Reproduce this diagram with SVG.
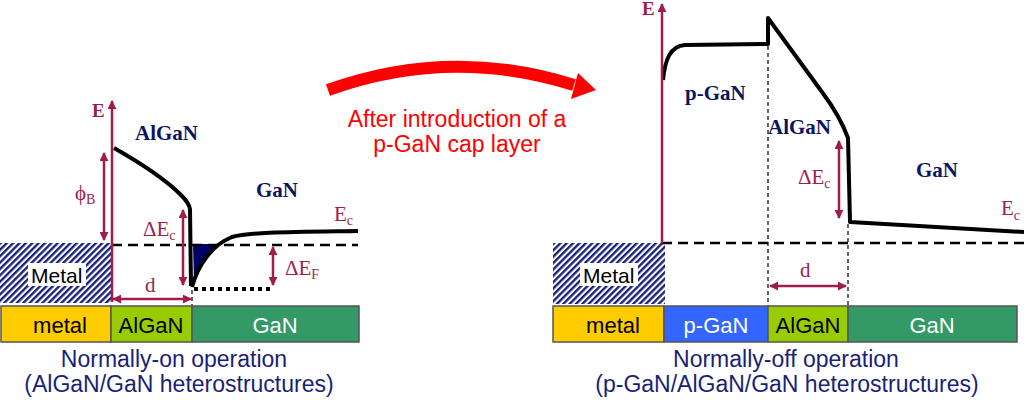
<svg xmlns="http://www.w3.org/2000/svg" width="1024" height="400" viewBox="0 0 1024 400">
<defs>
<pattern id="hatch" width="4.5" height="4.5" patternUnits="userSpaceOnUse" patternTransform="rotate(45)">
<rect width="4.5" height="4.5" fill="#ffffff"/>
<rect width="2.4" height="4.5" fill="#1a237a"/>
</pattern>
<marker id="ah" viewBox="0 0 10 10" refX="9" refY="5" markerWidth="9" markerHeight="9" markerUnits="userSpaceOnUse" orient="auto-start-reverse">
<path d="M0,0 L10,5 L0,10 Z" fill="#a01c4c"/>
</marker>
<style>
.ax{stroke:#a01c4c;stroke-width:2.5;fill:none}
.band{stroke:#000;stroke-width:4;fill:none;stroke-linejoin:round}
.ef{stroke:#000;stroke-width:2.5;stroke-dasharray:10 6;fill:none}
.bd{stroke:#000;stroke-width:1.2;stroke-dasharray:4 3;fill:none}
.lbl{font-family:"Liberation Serif",serif;font-weight:bold;fill:#0b1463;font-size:21px}
.sym{font-family:"Liberation Serif",serif;fill:#a01c4c;font-size:21px}
.ebold{font-family:"Liberation Serif",serif;font-weight:bold;fill:#a01c4c;font-size:19px}
.lay{font-family:"Liberation Sans",Arial,sans-serif;font-size:22px;text-anchor:middle}
.cap{font-family:"Liberation Sans",Arial,sans-serif;font-size:23px;fill:#1a1f78;text-anchor:middle}
.red{font-family:"Liberation Sans",Arial,sans-serif;font-size:23px;fill:#ff0000;text-anchor:middle}
.mtl{font-family:"Liberation Sans",Arial,sans-serif;font-size:21px;fill:#000}
.box{stroke:#555;stroke-width:1.5}
</style>
</defs>

<!-- LEFT DIAGRAM -->
<g id="left-metal-hatch">
<rect x="0" y="243" width="111" height="60" fill="url(#hatch)"/>
<rect x="28" y="263" width="58" height="23" fill="#ffffff"/>
<text class="mtl" x="31" y="283">Metal</text>
</g>
<g id="left-band">
<path d="M193,244 L222,244 C212,251 200,264 194,285 Z" fill="#000066"/>
<path class="band" d="M114,148 Q160,174 181,195 Q189,203 190,209 L191,286"/>
<path class="band" d="M192,287 C198,265 212,245 232,237 C250,232 290,232 358,231"/>
</g>
<g id="left-levels">
<line class="ef" x1="112" y1="245" x2="358" y2="245"/>
<line x1="194" y1="289" x2="273" y2="289" stroke="#000" stroke-width="4" stroke-dasharray="4 4"/>
<line class="bd" x1="192" y1="290" x2="192" y2="306"/>
</g>
<g id="left-labels">
<text class="ebold" x="92" y="117">E</text>
<text class="lbl" x="135" y="140">AlGaN</text>
<text class="lbl" x="256" y="197">GaN</text>
<text class="sym" x="75" y="200" font-size="22">ϕ<tspan font-size="14" dy="4">B</tspan></text>
<text class="sym" x="143" y="236">ΔE<tspan font-size="14" dy="4">c</tspan></text>
<text class="sym" x="285" y="275">ΔE<tspan font-size="14" dy="4">F</tspan></text>
<text class="sym" x="145" y="292" font-size="22">d</text>
<text class="sym" x="334" y="221">E<tspan font-size="14" dy="4">c</tspan></text>
</g>
<g id="left-layers">
<rect class="box" x="1" y="306" width="110" height="36" fill="#ffcc00"/>
<rect class="box" x="111" y="306" width="81" height="36" fill="#99cc00"/>
<rect class="box" x="192" y="306" width="167" height="36" fill="#339966"/>
<text class="lay" x="60" y="333" fill="#000">metal</text>
<text class="lay" x="151" y="333" fill="#000">AlGaN</text>
<text class="lay" x="275" y="333" fill="#fff">GaN</text>
</g>
<g id="left-caption">
<text class="cap" x="174" y="367">Normally-on operation</text>
<text class="cap" x="179" y="392">(AlGaN/GaN heterostructures)</text>
</g>

<!-- TRANSITION -->
<g id="transition">
<path d="M328,90 Q450,46 574,85" stroke="#ff0000" stroke-width="12" fill="none"/>
<polygon points="596,90 571,99 578,73" fill="#ff0000"/>
<text class="red" x="457" y="127">After introduction of a</text>
<text class="red" x="457" y="152">p-GaN cap layer</text>
</g>

<!-- RIGHT DIAGRAM -->
<g id="right-metal-hatch">
<rect x="553" y="243" width="112" height="61" fill="url(#hatch)"/>
<rect x="580" y="263" width="58" height="23" fill="#ffffff"/>
<text class="mtl" x="583" y="283">Metal</text>
</g>
<g id="right-band">
<path class="band" d="M663,80 C665,60 670,46 685,45 L768,44 L768,18 L822,92 Q840,116 848,138 L850,222 L1024,232"/>
</g>
<g id="right-levels">
<line class="ef" x1="662" y1="243" x2="1024" y2="243"/>
<line class="bd" x1="768" y1="46" x2="768" y2="306"/>
<line class="bd" x1="848" y1="224" x2="848" y2="306"/>
</g>
<g id="right-labels">
<text class="ebold" x="642" y="15">E</text>
<text class="lbl" x="685" y="100" font-size="22">p-GaN</text>
<text class="lbl" x="768" y="134" font-size="22">AlGaN</text>
<text class="lbl" x="916" y="177" font-size="22">GaN</text>
<text class="sym" x="798" y="184">ΔE<tspan font-size="14" dy="4">c</tspan></text>
<text class="sym" x="800" y="277" font-size="22">d</text>
<text class="sym" x="1001" y="215">E<tspan font-size="14" dy="5">c</tspan></text>
</g>
<g id="right-layers">
<rect class="box" x="553" y="306" width="111" height="36" fill="#ffcc00"/>
<rect class="box" x="664" y="306" width="104" height="36" fill="#3366ff"/>
<rect class="box" x="768" y="306" width="80" height="36" fill="#99cc00"/>
<rect class="box" x="848" y="306" width="169" height="36" fill="#339966"/>
<text class="lay" x="613" y="333" fill="#000">metal</text>
<text class="lay" x="716" y="333" fill="#fff">p-GaN</text>
<text class="lay" x="808" y="333" fill="#000">AlGaN</text>
<text class="lay" x="932" y="333" fill="#fff">GaN</text>
</g>
<g id="right-caption">
<text class="cap" x="786" y="367">Normally-off operation</text>
<text class="cap" x="787" y="392">(p-GaN/AlGaN/GaN heterostructures)</text>
</g>

<!-- CONNECTORS / ARROWS -->
<g id="connectors">
<line class="ax" x1="112" y1="302" x2="112" y2="101" marker-end="url(#ah)"/>
<line class="ax" x1="104" y1="153" x2="104" y2="240" marker-start="url(#ah)" marker-end="url(#ah)"/>
<line class="ax" x1="183" y1="210" x2="183" y2="285" marker-start="url(#ah)" marker-end="url(#ah)"/>
<line class="ax" x1="273" y1="247" x2="273" y2="285" marker-start="url(#ah)" marker-end="url(#ah)"/>
<line class="ax" x1="113" y1="299" x2="191" y2="299" marker-start="url(#ah)" marker-end="url(#ah)"/>
<line class="ax" x1="662" y1="243" x2="662" y2="4" marker-end="url(#ah)"/>
<line class="ax" x1="839" y1="141" x2="839" y2="218" marker-start="url(#ah)" marker-end="url(#ah)"/>
<line class="ax" x1="770" y1="286" x2="846" y2="286" marker-start="url(#ah)" marker-end="url(#ah)"/>
</g>
</svg>
